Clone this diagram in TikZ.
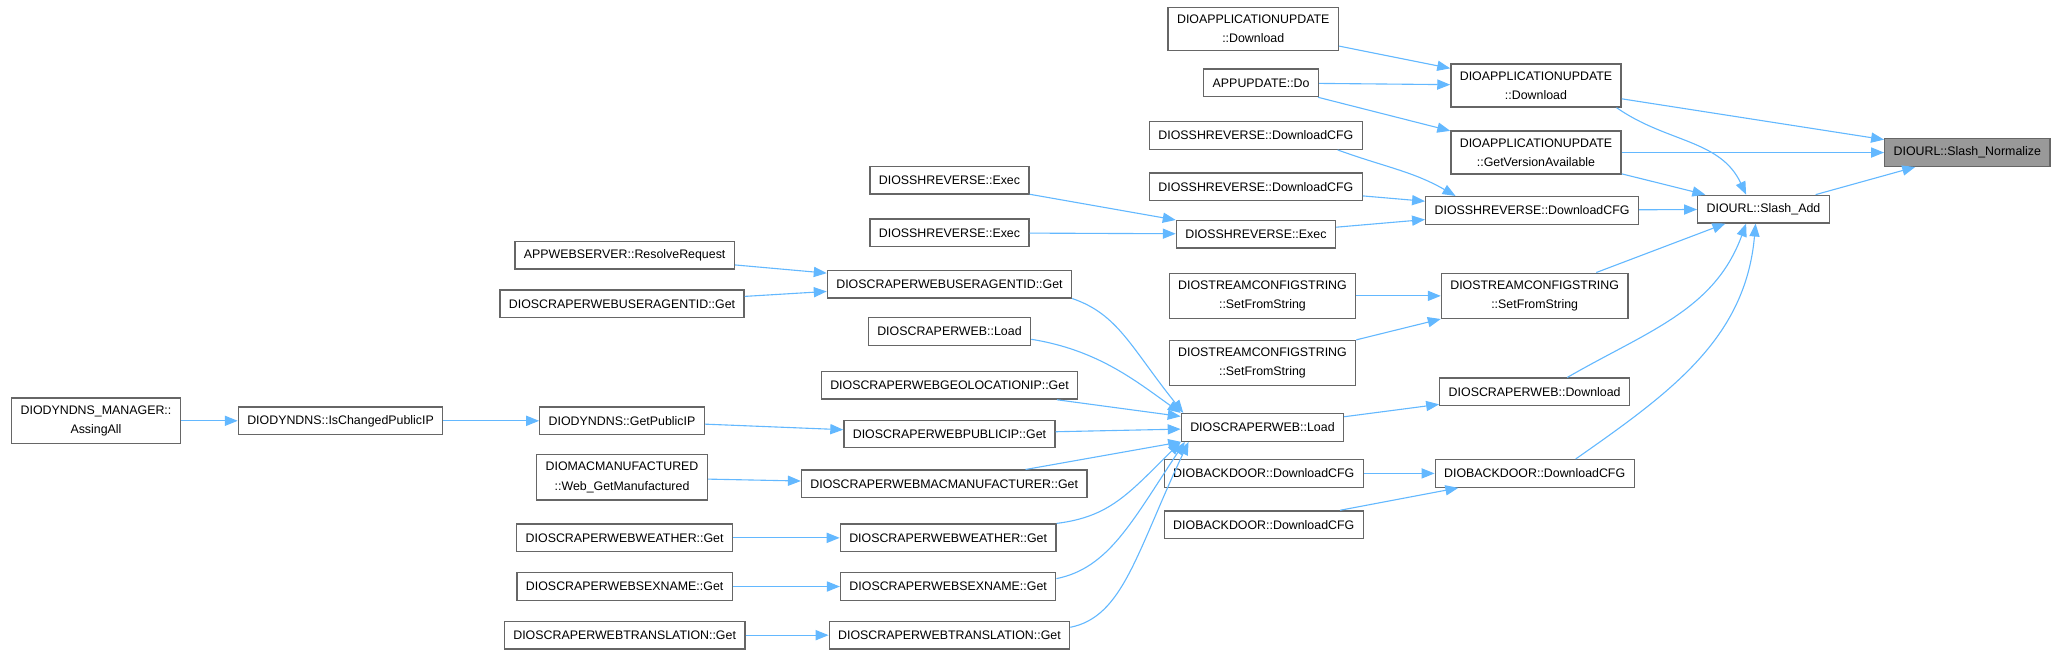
\documentclass[tikz,border=0pt]{standalone}
\usepackage{fontspec}
\setmainfont{Liberation Sans}
\usetikzlibrary{arrows.meta}
\definecolor{edgeblue}{HTML}{63B8FF}
\definecolor{boxline}{HTML}{666666}
\definecolor{curfill}{HTML}{999999}

\begin{document}
\begin{tikzpicture}[x=0.025cm,y=-0.025cm,
  fn/.style={draw=boxline, line width=0.7pt, fill=white, inner xsep=0.17cm, inner ysep=4pt,
    minimum height=0.525cm, align=center, font=\fontsize{6.7}{10.5}\selectfont},
  cur/.style={fn, fill=curfill},
  call/.style={draw=edgeblue, line width=0.6pt, -{Triangle[length=7pt,width=5.5pt]}}]
\useasboundingbox (0,0) rectangle (1568,499);

\node[cur] (norm) at (1496,116) {DIOURL::Slash\_Normalize};
\node[fn] (sadd) at (1341,159) {DIOURL::Slash\_Add};

\node[fn] (appdl) at (1168,65) {DIOAPPLICATIONUPDATE\\::Download};
\node[fn] (getver) at (1168,116) {DIOAPPLICATIONUPDATE\\::GetVersionAvailable};
\node[fn] (sshcfg) at (1165,160) {DIOSSHREVERSE::DownloadCFG};
\node[fn] (strset) at (1167,225) {DIOSTREAMCONFIGSTRING\\::SetFromString};
\node[fn] (swdl) at (1167,298) {DIOSCRAPERWEB::Download};
\node[fn] (bdcfg) at (1167,360) {DIOBACKDOOR::DownloadCFG};

\node[fn] (appdlb) at (953,22) {DIOAPPLICATIONUPDATE\\::Download};
\node[fn] (appdo) at (959,63) {APPUPDATE::Do};
\node[fn] (sshcfga) at (955,103) {DIOSSHREVERSE::DownloadCFG};
\node[fn] (sshcfgb) at (955,142) {DIOSSHREVERSE::DownloadCFG};
\node[fn] (sshexec) at (955,178) {DIOSSHREVERSE::Exec};
\node[fn] (strseta) at (960,225) {DIOSTREAMCONFIGSTRING\\::SetFromString};
\node[fn] (strsetb) at (960,276) {DIOSTREAMCONFIGSTRING\\::SetFromString};
\node[fn] (swload) at (960,325) {DIOSCRAPERWEB::Load};
\node[fn] (bdcfga) at (961,360) {DIOBACKDOOR::DownloadCFG};
\node[fn] (bdcfgb) at (961,399) {DIOBACKDOOR::DownloadCFG};

\node[fn] (sshexeca) at (722,137) {DIOSSHREVERSE::Exec};
\node[fn] (sshexecb) at (722,177) {DIOSSHREVERSE::Exec};
\node[fn] (uagent) at (722,216) {DIOSCRAPERWEBUSERAGENTID::Get};
\node[fn] (swloadb) at (722,252) {DIOSCRAPERWEB::Load};
\node[fn] (geoip) at (722,293) {DIOSCRAPERWEBGEOLOCATIONIP::Get};
\node[fn] (pubip) at (722,330) {DIOSCRAPERWEBPUBLICIP::Get};
\node[fn] (macmf) at (718,368) {DIOSCRAPERWEBMACMANUFACTURER::Get};
\node[fn] (weather) at (721,409) {DIOSCRAPERWEBWEATHER::Get};
\node[fn] (sexname) at (721,446) {DIOSCRAPERWEBSEXNAME::Get};
\node[fn] (transl) at (722,483) {DIOSCRAPERWEBTRANSLATION::Get};

\node[fn] (resolve) at (475,194) {APPWEBSERVER::ResolveRequest};
\node[fn] (uagentb) at (473,231) {DIOSCRAPERWEBUSERAGENTID::Get};
\node[fn] (getpub) at (473,320) {DIODYNDNS::GetPublicIP};
\node[fn] (webmf) at (473,363) {DIOMACMANUFACTURED\\::Web\_GetManufactured};
\node[fn] (weatherb) at (475,409) {DIOSCRAPERWEBWEATHER::Get};
\node[fn] (sexnameb) at (475,446) {DIOSCRAPERWEBSEXNAME::Get};
\node[fn] (translb) at (475,483) {DIOSCRAPERWEBTRANSLATION::Get};

\node[fn] (ischg) at (259,320) {DIODYNDNS::IsChangedPublicIP};
\node[fn] (assing) at (73,320) {DIODYNDNS\_MANAGER::\\AssingAll};

\draw[call] (appdl) -- (norm);
\draw[call] (getver) -- (norm);
\draw[call] (sadd) -- (norm);
\draw[call] ([xshift=-0.1cm]appdl.south east) to[out=-35,in=115] ([xshift=-0.33cm]sadd.north);
\draw[call] (getver) -- (sadd);
\draw[call] (sshcfg) -- (sadd);
\draw[call] (strset) -- (sadd);
\draw[call] ([xshift=0.62cm]swdl.north) to[out=30,in=-110] ([xshift=-0.33cm]sadd.south);
\draw[call] ([xshift=0.78cm]bdcfg.north) to[out=35,in=-95] ([xshift=-0.15cm]sadd.south);

\draw[call] (appdlb) -- (appdl);
\draw[call] (appdo) -- (appdl);
\draw[call] (appdo) -- (getver);
\draw[call] ([xshift=-0.48cm]sshcfga.south east) to[out=-20,in=150] ([xshift=0.58cm]sshcfg.north west);
\draw[call] (sshcfgb) -- (sshcfg);
\draw[call] (sshexec) -- (sshcfg);
\draw[call] (strseta) -- (strset);
\draw[call] (strsetb) -- (strset);
\draw[call] (swload) -- (swdl);
\draw[call] (bdcfga) -- (bdcfg);
\draw[call] (bdcfgb) -- (bdcfg);

\draw[call] (sshexeca) -- (sshexec);
\draw[call] (sshexecb) -- (sshexec);
\draw[call] (uagent.south east) .. controls +(35,12) and +(-40,-50) .. ([xshift=0.05cm]swload.north west);
\draw[call] ([yshift=-0.15cm]swloadb.east) .. controls +(50,8) and +(-35,-25) .. (swload.north west);
\draw[call] (geoip) -- (swload);
\draw[call] (pubip) -- (swload);
\draw[call] (macmf) -- (swload);
\draw[call] (weather.north east) .. controls +(40,-5) and +(-40,40) .. (swload.south west);
\draw[call] ([yshift=0.15cm]sexname.east) .. controls +(40,-8) and +(-40,60) .. ([xshift=0.08cm]swload.south west);
\draw[call] ([yshift=0.15cm]transl.east) .. controls +(40,-8) and +(-40,85) .. ([xshift=0.15cm]swload.south west);

\draw[call] (resolve) -- (uagent);
\draw[call] (uagentb) -- (uagent);
\draw[call] (getpub) -- (pubip);
\draw[call] (webmf) -- (macmf);
\draw[call] (weatherb) -- (weather);
\draw[call] (sexnameb) -- (sexname);
\draw[call] (translb) -- (transl);
\draw[call] (ischg) -- (getpub);
\draw[call] (assing) -- (ischg);
\end{tikzpicture}
\end{document}
